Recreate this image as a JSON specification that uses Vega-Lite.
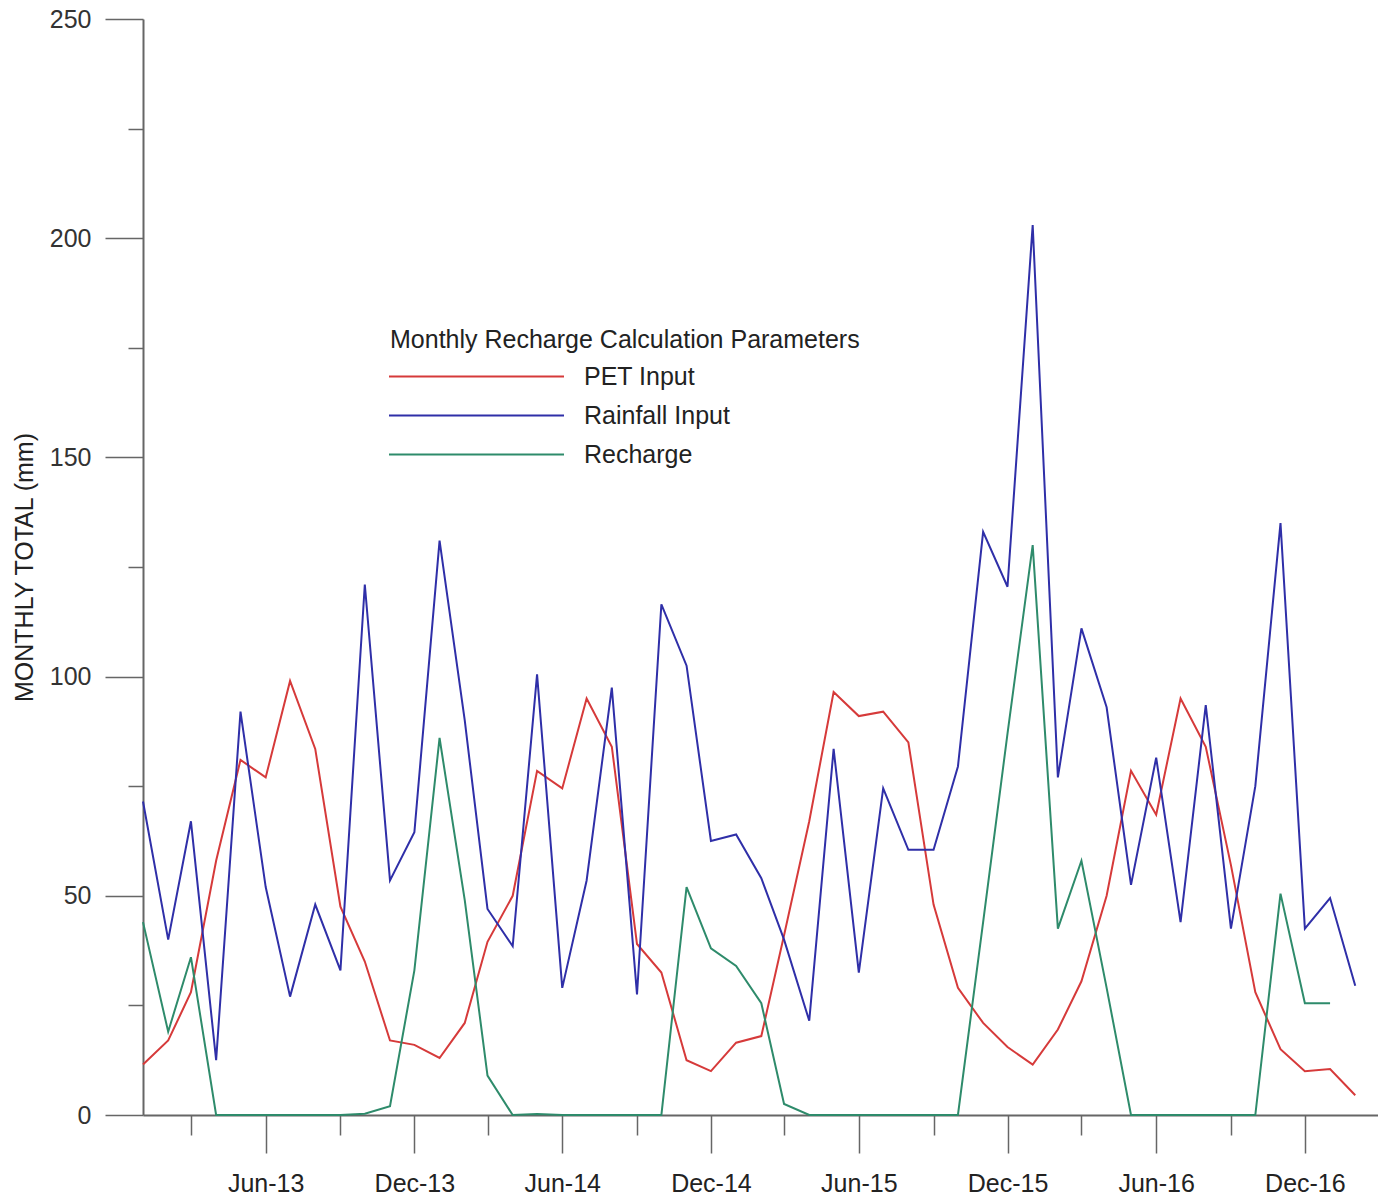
{
  "$schema": "https://vega.github.io/schema/vega-lite/v6.json",
  "width": 1235,
  "height": 1096,
  "autosize": {"type": "none"},
  "padding": {"left": 143, "top": 19, "right": 0, "bottom": 87},
  "background": "white",
  "config": {"view": {"stroke": null}, "font": "Liberation Sans"},
  "datasets": {
    "pet": [
      {"date": "2013-01-01", "value": 11.5}, {"date": "2013-02-01", "value": 17}, {"date": "2013-03-01", "value": 28}, {"date": "2013-04-01", "value": 58},
      {"date": "2013-05-01", "value": 81}, {"date": "2013-06-01", "value": 77}, {"date": "2013-07-01", "value": 99}, {"date": "2013-08-01", "value": 83.5},
      {"date": "2013-09-01", "value": 47.5}, {"date": "2013-10-01", "value": 35}, {"date": "2013-11-01", "value": 17}, {"date": "2013-12-01", "value": 16},
      {"date": "2014-01-01", "value": 13}, {"date": "2014-02-01", "value": 21}, {"date": "2014-03-01", "value": 39.5}, {"date": "2014-04-01", "value": 50},
      {"date": "2014-05-01", "value": 78.5}, {"date": "2014-06-01", "value": 74.5}, {"date": "2014-07-01", "value": 95}, {"date": "2014-08-01", "value": 84},
      {"date": "2014-09-01", "value": 39}, {"date": "2014-10-01", "value": 32.5}, {"date": "2014-11-01", "value": 12.5}, {"date": "2014-12-01", "value": 10},
      {"date": "2015-01-01", "value": 16.5}, {"date": "2015-02-01", "value": 18}, {"date": "2015-03-01", "value": 41}, {"date": "2015-04-01", "value": 67},
      {"date": "2015-05-01", "value": 96.5}, {"date": "2015-06-01", "value": 91}, {"date": "2015-07-01", "value": 92}, {"date": "2015-08-01", "value": 85},
      {"date": "2015-09-01", "value": 48}, {"date": "2015-10-01", "value": 29}, {"date": "2015-11-01", "value": 21}, {"date": "2015-12-01", "value": 15.5},
      {"date": "2016-01-01", "value": 11.5}, {"date": "2016-02-01", "value": 19.5}, {"date": "2016-03-01", "value": 30.5}, {"date": "2016-04-01", "value": 50},
      {"date": "2016-05-01", "value": 78.5}, {"date": "2016-06-01", "value": 68.5}, {"date": "2016-07-01", "value": 95}, {"date": "2016-08-01", "value": 84},
      {"date": "2016-09-01", "value": 57}, {"date": "2016-10-01", "value": 28}, {"date": "2016-11-01", "value": 15}, {"date": "2016-12-01", "value": 10},
      {"date": "2017-01-01", "value": 10.5}, {"date": "2017-02-01", "value": 4.5}
    ],
    "rain": [
      {"date": "2013-01-01", "value": 71.5}, {"date": "2013-02-01", "value": 40}, {"date": "2013-03-01", "value": 67}, {"date": "2013-04-01", "value": 12.5},
      {"date": "2013-05-01", "value": 92}, {"date": "2013-06-01", "value": 52}, {"date": "2013-07-01", "value": 27}, {"date": "2013-08-01", "value": 48},
      {"date": "2013-09-01", "value": 33}, {"date": "2013-10-01", "value": 121}, {"date": "2013-11-01", "value": 53.5}, {"date": "2013-12-01", "value": 64.5},
      {"date": "2014-01-01", "value": 131}, {"date": "2014-02-01", "value": 90}, {"date": "2014-03-01", "value": 47}, {"date": "2014-04-01", "value": 38.5},
      {"date": "2014-05-01", "value": 100.5}, {"date": "2014-06-01", "value": 29}, {"date": "2014-07-01", "value": 53.5}, {"date": "2014-08-01", "value": 97.5},
      {"date": "2014-09-01", "value": 27.5}, {"date": "2014-10-01", "value": 116.5}, {"date": "2014-11-01", "value": 102.5}, {"date": "2014-12-01", "value": 62.5},
      {"date": "2015-01-01", "value": 64}, {"date": "2015-02-01", "value": 54}, {"date": "2015-03-01", "value": 40}, {"date": "2015-04-01", "value": 21.5},
      {"date": "2015-05-01", "value": 83.5}, {"date": "2015-06-01", "value": 32.5}, {"date": "2015-07-01", "value": 74.5}, {"date": "2015-08-01", "value": 60.5},
      {"date": "2015-09-01", "value": 60.5}, {"date": "2015-10-01", "value": 79.5}, {"date": "2015-11-01", "value": 133}, {"date": "2015-12-01", "value": 120.5},
      {"date": "2016-01-01", "value": 203}, {"date": "2016-02-01", "value": 77}, {"date": "2016-03-01", "value": 111}, {"date": "2016-04-01", "value": 93},
      {"date": "2016-05-01", "value": 52.5}, {"date": "2016-06-01", "value": 81.5}, {"date": "2016-07-01", "value": 44}, {"date": "2016-08-01", "value": 93.5},
      {"date": "2016-09-01", "value": 42.5}, {"date": "2016-10-01", "value": 75}, {"date": "2016-11-01", "value": 135}, {"date": "2016-12-01", "value": 42.5},
      {"date": "2017-01-01", "value": 49.5}, {"date": "2017-02-01", "value": 29.5}
    ],
    "recharge": [
      {"date": "2013-01-01", "value": 44}, {"date": "2013-02-01", "value": 19}, {"date": "2013-03-01", "value": 36}, {"date": "2013-04-01", "value": 0},
      {"date": "2013-05-01", "value": 0}, {"date": "2013-06-01", "value": 0}, {"date": "2013-07-01", "value": 0}, {"date": "2013-08-01", "value": 0},
      {"date": "2013-09-01", "value": 0}, {"date": "2013-10-01", "value": 0.3}, {"date": "2013-11-01", "value": 2}, {"date": "2013-12-01", "value": 33},
      {"date": "2014-01-01", "value": 86}, {"date": "2014-02-01", "value": 49}, {"date": "2014-03-01", "value": 9}, {"date": "2014-04-01", "value": 0},
      {"date": "2014-05-01", "value": 0.2}, {"date": "2014-06-01", "value": 0}, {"date": "2014-07-01", "value": 0}, {"date": "2014-08-01", "value": 0},
      {"date": "2014-09-01", "value": 0}, {"date": "2014-10-01", "value": 0}, {"date": "2014-11-01", "value": 52}, {"date": "2014-12-01", "value": 38},
      {"date": "2015-01-01", "value": 34}, {"date": "2015-02-01", "value": 25.5}, {"date": "2015-03-01", "value": 2.5}, {"date": "2015-04-01", "value": 0},
      {"date": "2015-05-01", "value": 0}, {"date": "2015-06-01", "value": 0}, {"date": "2015-07-01", "value": 0}, {"date": "2015-08-01", "value": 0},
      {"date": "2015-09-01", "value": 0}, {"date": "2015-10-01", "value": 0}, {"date": "2015-11-01", "value": 44}, {"date": "2015-12-01", "value": 87},
      {"date": "2016-01-01", "value": 130}, {"date": "2016-02-01", "value": 42.5}, {"date": "2016-03-01", "value": 58}, {"date": "2016-04-01", "value": 29},
      {"date": "2016-05-01", "value": 0}, {"date": "2016-06-01", "value": 0}, {"date": "2016-07-01", "value": 0}, {"date": "2016-08-01", "value": 0},
      {"date": "2016-09-01", "value": 0}, {"date": "2016-10-01", "value": 0}, {"date": "2016-11-01", "value": 50.5}, {"date": "2016-12-01", "value": 25.5},
      {"date": "2017-01-01", "value": 25.5}
    ]
  },
  "layer": [
    {
      "data": {"name": "pet"},
      "transform": [{"calculate": "'PET Input'", "as": "series"}],
      "mark": {"type": "line", "strokeWidth": 2},
      "encoding": {}
    },
    {
      "data": {"name": "rain"},
      "transform": [{"calculate": "'Rainfall Input'", "as": "series"}],
      "mark": {"type": "line", "strokeWidth": 2},
      "encoding": {}
    },
    {
      "data": {"name": "recharge"},
      "transform": [{"calculate": "'Recharge'", "as": "series"}],
      "mark": {"type": "line", "strokeWidth": 2},
      "encoding": {}
    }
  ],
  "encoding": {
    "x": {
      "field": "date",
      "type": "temporal",
      "scale": {
        "type": "utc",
        "domain": [
          {"year": 2013, "month": 1, "date": 1, "utc": true},
          {"year": 2017, "month": 3, "date": 1, "utc": true}
        ]
      },
      "axis": {
        "title": null,
        "grid": false,
        "values": [
          {"year": 2013, "month": 3, "date": 1, "utc": true}, {"year": 2013, "month": 6, "date": 1, "utc": true},
          {"year": 2013, "month": 9, "date": 1, "utc": true}, {"year": 2013, "month": 12, "date": 1, "utc": true},
          {"year": 2014, "month": 3, "date": 1, "utc": true}, {"year": 2014, "month": 6, "date": 1, "utc": true},
          {"year": 2014, "month": 9, "date": 1, "utc": true}, {"year": 2014, "month": 12, "date": 1, "utc": true},
          {"year": 2015, "month": 3, "date": 1, "utc": true}, {"year": 2015, "month": 6, "date": 1, "utc": true},
          {"year": 2015, "month": 9, "date": 1, "utc": true}, {"year": 2015, "month": 12, "date": 1, "utc": true},
          {"year": 2016, "month": 3, "date": 1, "utc": true}, {"year": 2016, "month": 6, "date": 1, "utc": true},
          {"year": 2016, "month": 9, "date": 1, "utc": true}, {"year": 2016, "month": 12, "date": 1, "utc": true}
        ],
        "labelExpr": "(utcmonth(datum.value) == 5 || utcmonth(datum.value) == 11) ? utcFormat(datum.value, '%b-%y') : ''",
        "tickSize": {"condition": {"test": "utcmonth(datum.value) == 5 || utcmonth(datum.value) == 11", "value": 38}, "value": 20},
        "labelPadding": 18,
        "labelFontSize": 25,
        "labelColor": "#222222",
        "labelFlush": false,
        "labelOverlap": false,
        "labelBound": false,
        "tickColor": "#666666",
        "tickWidth": 1.5,
        "domainColor": "#666666",
        "domainWidth": 2
      }
    },
    "y": {
      "field": "value",
      "type": "quantitative",
      "scale": {"domain": [0, 250], "nice": false},
      "axis": {
        "title": "MONTHLY TOTAL (mm)",
        "titleFontSize": 25,
        "titleFontWeight": "normal",
        "titleColor": "#222222",
        "titlePadding": 12,
        "grid": false,
        "values": [0, 25, 50, 75, 100, 125, 150, 175, 200, 225, 250],
        "labelExpr": "datum.value % 50 == 0 ? datum.label : ''",
        "tickSize": {"condition": {"test": "datum.value % 50 == 0", "value": 38}, "value": 15},
        "labelPadding": 14,
        "labelFontSize": 25,
        "labelColor": "#333333",
        "labelFlush": false,
        "labelOverlap": false,
        "tickColor": "#666666",
        "tickWidth": 1.5,
        "domainColor": "#666666",
        "domainWidth": 2
      }
    },
    "color": {
      "field": "series",
      "type": "nominal",
      "scale": {
        "domain": ["PET Input", "Rainfall Input", "Recharge"],
        "range": ["#d63a3a", "#2f2fa8", "#2e8b6b"]
      },
      "legend": {
        "title": "Monthly Recharge Calculation Parameters",
        "orient": "none",
        "legendX": 247,
        "legendY": 309,
        "direction": "vertical",
        "padding": 0,
        "symbolType": "M-8.75,0H8.75",
        "symbolSize": 400,
        "symbolStrokeWidth": 2,
        "symbolOffset": 74,
        "labelOffset": 95,
        "labelFontSize": 25,
        "labelColor": "#222222",
        "labelLimit": 400,
        "titleFontSize": 25,
        "titleFontWeight": "normal",
        "titleColor": "#222222",
        "titleLimit": 1000,
        "titlePadding": 11,
        "rowPadding": 13
      }
    }
  }
}
